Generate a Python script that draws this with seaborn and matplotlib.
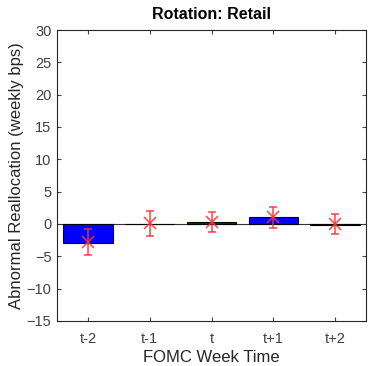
import matplotlib
matplotlib.use("Agg")
import matplotlib.pyplot as plt
import seaborn as sns
import pandas as pd
import numpy as np

categories = ["t-2", "t-1", "t", "t+1", "t+2"]
bar_values = [-3.0, 0.0, 0.3, 1.05, -0.1]
point_values = [-2.8, 0.1, 0.25, 1.05, 0.0]
err_values = [2.0, 1.9, 1.55, 1.65, 1.55]

sns.set_theme(style="white")
plt.rcParams['font.family'] = ['Liberation Sans', 'DejaVu Sans']

fig = plt.figure(figsize=(3.68, 3.66), dpi=100)
ax = fig.add_axes([57/368, 1-321/366, 309/368, 291/366])

df = pd.DataFrame({"cat": categories, "val": bar_values})
sns.barplot(data=df, x="cat", y="val", color="#0000FF", saturation=1,
            edgecolor="black", linewidth=0.8, width=0.8, errorbar=None, ax=ax, zorder=2)
ax.axhline(0, color="#333333", lw=0.8, zorder=1)
ax.errorbar(np.arange(len(categories)), point_values, yerr=err_values, fmt="x",
            color="#FF3333", alpha=0.85, ms=8, mew=1.2, elinewidth=1.2, capsize=3, zorder=3)

ax.set_xlim(-0.5, 4.5)
ax.set_ylim(-15, 30)
ax.set_yticks(range(-15, 31, 5))
ax.set_title("Rotation: Retail", fontsize=11.5, fontweight="bold", pad=8, color="black")
ax.set_xlabel("FOMC Week Time", fontsize=12, color="#262626", labelpad=3)
ax.set_ylabel("Abnormal Reallocation (weekly bps)", fontsize=12, color="#262626", labelpad=2)
ax.tick_params(direction="in", length=3, width=0.8, labelsize=10.5, colors="#404040",
               top=True, right=True, bottom=True, left=True)
ax.tick_params(axis="x", pad=8)
ax.tick_params(axis="y", pad=4)
for s in ax.spines.values():
    s.set_color("#262626")
    s.set_linewidth(0.8)

fig.savefig("out.png", dpi=100)
